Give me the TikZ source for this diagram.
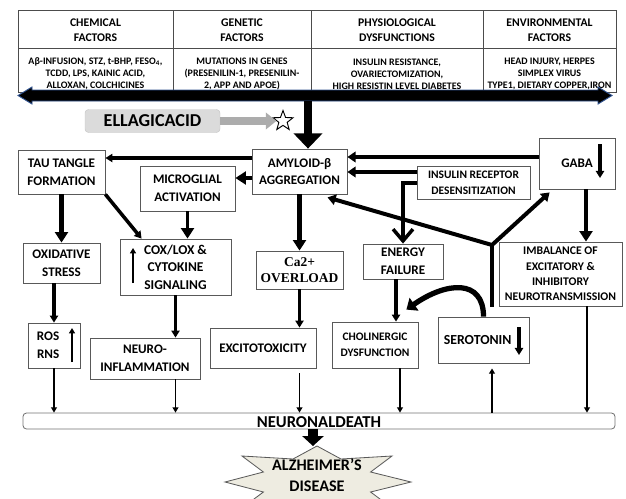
\documentclass[tikz,border=0pt]{standalone}
\usepackage{fontspec}
\setmainfont{Carlito}
\newfontfamily\serifbold{Liberation Serif}
\usetikzlibrary{arrows.meta,shapes.geometric,calc}
\definecolor{arrowblue}{RGB}{47,82,143}
\definecolor{starbeige}{RGB}{238,236,225}
\newlength\unitpx
\setlength\unitpx{0.03cm}
\tikzset{
	factorhead/.style={
		font=\fontsize{10}{12.8}\selectfont\bfseries,
		align=center
	},
	factortext/.style={
		font=\fontsize{8.5}{10.4}\selectfont\bfseries,
		align=center
	},
	box/.style={
		draw=black!65,
		fill=white,
		line width=0.7pt,
		align=center,
		inner sep=1pt,
		font=\fontsize{11.2}{15}\selectfont\bfseries
	},
	smallbox/.style={
		box,
		font=\fontsize{9.8}{13.4}\selectfont\bfseries
	},
	bigarrow/.style={line width=7.5pt, -{Triangle[length=13pt,width=24pt]}},
	thickarrow/.style={line width=4.2pt, -{Triangle[length=9pt,width=11pt]}},
	medarrow/.style={line width=2.6pt, -{Triangle[length=6pt,width=7pt]}},
	thinarrow/.style={line width=1.6pt, -{Triangle[length=4.5pt,width=5pt]}}
}

\begin{document}
\begin{tikzpicture}[x=\unitpx,y=-\unitpx]
	\useasboundingbox (0,0) rectangle (626,498);

	% factor table
	\draw[black!70, line width=0.8pt] (18,10) rectangle (616,92);
	\draw[black!70, line width=0.8pt] (18,48) -- (616,48)
		(173,10) -- (173,92) (311,10) -- (311,92) (483,10) -- (483,92);
	\node[factorhead] (chemhead) at (95.5,30) {CHEMICAL\\FACTORS};
	\node[factorhead] (genhead) at (242,30) {GENETIC\\FACTORS};
	\node[factorhead] (physhead) at (397,30) {PHYSIOLOGICAL\\DYSFUNCTIONS};
	\node[factorhead] (envhead) at (549.5,30) {ENVIRONMENTAL\\FACTORS};
	\node[factortext] (chem) at (95.5,74) {Aβ-INFUSION, STZ, t-BHP, FESO\textsubscript{4},\\TCDD, LPS, KAINIC ACID,\\ALLOXAN, COLCHICINES};
	\node[factortext] (gen) at (242,74) {MUTATIONS IN GENES\\(PRESENILIN-1,  PRESENILIN-\\2, APP AND APOE)};
	\node[factortext] (phys) at (397,74) {INSULIN RESISTANCE,\\OVARIECTOMIZATION,\\HIGH RESISTIN LEVEL DIABETES};
	\node[factortext] (env) at (549.5,74) {HEAD INJURY, HERPES\\SIMPLEX VIRUS\\TYPE1,  DIETARY COPPER,IRON};

	% double arrow under the table
	\filldraw[fill=black, draw=arrowblue, line width=0.8pt] (18,95.5) -- (32,87) -- (32,90)
		-- (598,90) -- (598,87) -- (612,95.5) -- (598,104) -- (598,101)
		-- (32,101) -- (32,104) -- cycle;
	\coordinate (factorbar) at (308,101);

	% ellagic acid
	\node[fill=gray!28, draw=gray!45, rounded corners=3pt, minimum width=135\unitpx,
		minimum height=23\unitpx, font=\fontsize{15.5}{18}\selectfont\bfseries] (ellagic) at (152.5,121) {ELLAGICACID};
	\node[star, star points=5, star point ratio=2.4, draw, line width=0.8pt,
		minimum size=21\unitpx, inner sep=0pt] (target) at (283,121) {};
	\draw[gray!65, line width=6pt, -{Triangle[length=9pt,width=14pt]}] (ellagic) -- (target);

	% boxes
	\node[box, minimum width=87\unitpx, minimum height=44\unitpx] (tau) at (61.5,172) {TAU TANGLE\\FORMATION};
	\node[box, minimum width=95\unitpx, minimum height=45\unitpx] (amyloid) at (299.5,171.5) {AMYLOID-β\\AGGREGATION};
	\node[box, minimum width=95\unitpx, minimum height=45\unitpx] (microglia) at (187.5,188.5) {MICROGLIAL\\ACTIVATION};
	\node[smallbox, minimum width=113\unitpx, minimum height=33\unitpx] (insulin) at (473.5,182.5) {INSULIN RECEPTOR\\DESENSITIZATION};
	\node[box, minimum width=76\unitpx, minimum height=51\unitpx] (gaba) at (577,163.5) {GABA};
	\node[box, minimum width=77\unitpx, minimum height=40\unitpx] (oxidative) at (61.5,263) {OXIDATIVE\\STRESS};
	\node[box, font=\fontsize{11.5}{15}\selectfont\bfseries, minimum width=111\unitpx, minimum height=56\unitpx] (cox) at (175.5,267) {COX/LOX \&\\CYTOKINE\\SIGNALING};
	\node[box, font=\fontsize{11.5}{14}\selectfont\serifbold\bfseries, minimum width=87\unitpx, minimum height=38\unitpx] (calcium) at (299.5,270) {Ca2+\\OVERLOAD};
	\node[box, minimum width=80\unitpx, minimum height=35\unitpx] (energy) at (403,261.5) {ENERGY\\FAILURE};
	\node[smallbox, font=\fontsize{10}{13}\selectfont\bfseries, minimum width=123\unitpx, minimum height=64\unitpx] (imbalance) at (560.5,274) {IMBALANCE OF\\EXCITATORY \&\\INHIBITORY\\NEUROTRANSMISSION};
	\node[box, minimum width=52\unitpx, minimum height=45\unitpx] (ros) at (54,345.5) {ROS\kern10pt\\RNS\kern10pt};
	\node[box, minimum width=110\unitpx, minimum height=41\unitpx] (inflammation) at (145,358.5) {NEURO-\\INFLAMMATION};
	\node[box, minimum width=106\unitpx, minimum height=40\unitpx] (excitotoxicity) at (263,348) {EXCITOTOXICITY};
	\node[smallbox, minimum width=86\unitpx, minimum height=46\unitpx] (cholinergic) at (375,345) {CHOLINERGIC\\DYSFUNCTION};
	\node[box, font=\fontsize{11.8}{15}\selectfont\bfseries, minimum width=91\unitpx, minimum height=46\unitpx] (serotonin) at (483.5,340) {SEROTONIN\kern10pt};
	\node[draw=black!55, fill=white, rounded corners=3pt, line width=0.7pt, minimum width=592\unitpx,
		minimum height=16\unitpx, inner sep=0pt,
		label={[font=\fontsize{14.2}{16}\selectfont\bfseries, yshift=-1pt]center:NEURONALDEATH}] (death) at (319,421) {};

	% alzheimer star
	\filldraw[fill=starbeige, draw=black!65, line width=0.7pt]
		(317,446) -- (341,459) -- (392,456) -- (370.6,472) -- (411,482)
		-- (370.6,492) -- (392,508) -- (341,505) -- (317,518)
		-- (293,505) -- (242,508) -- (263.4,492) -- (225,482)
		-- (263.4,472) -- (242,456) -- (293,459) -- cycle;
	\coordinate (startop) at (317,446);
	\node[font=\fontsize{13.8}{18}\selectfont\bfseries, align=center] (alzheimer) at (317,475) {ALZHEIMER’S\\DISEASE};

	% up and down marks inside boxes
	\draw[medarrow, line width=2.8pt] ($(gaba.center)+(23,-19.5)$) -- ($(gaba.center)+(23,14.5)$);
	\draw[medarrow, line width=2.8pt] ($(serotonin.center)+(35.5,-13)$) -- ($(serotonin.center)+(35.5,15)$);
	\draw[thinarrow, line width=2pt] ($(ros.center)+(18,16.5)$) -- ($(ros.center)+(18,-17.5)$);
	\draw[thinarrow, line width=2pt] ($(cox.center)+(-42.5,16)$) -- ($(cox.center)+(-42.5,-19)$);

	% connectors
	\draw[bigarrow] (factorbar) -- (factorbar |- amyloid.north);
	\draw[medarrow, line width=3pt] ([yshift=13.5\unitpx]amyloid.west) -- ([yshift=13.5\unitpx]amyloid.west -| tau.east);
	\draw[thickarrow] ([yshift=-6.5\unitpx]amyloid.west) -- ([yshift=-6.5\unitpx]amyloid.west -| microglia.east);
	\draw[medarrow, line width=3.4pt, -{Triangle[length=7pt,width=9pt]}] ([yshift=6.5\unitpx]gaba.west) -- ([yshift=6.5\unitpx]gaba.west -| amyloid.east);
	\draw[medarrow, line width=3.4pt, -{Triangle[length=7pt,width=9pt]}] ([yshift=10.5\unitpx]insulin.west) -- ([yshift=10.5\unitpx]insulin.west -| amyloid.east);
	\draw[line width=3pt, -{Straight Barb[length=10pt,width=17pt]}] ([yshift=-0.5\unitpx]insulin.west) -| (energy.north);
	\draw[thickarrow] (amyloid.south) -- (calcium.north);
	\draw[thickarrow] (tau.south) -- (oxidative.north);
	\draw[medarrow, line width=3pt] (tau.south east) -- ([xshift=22\unitpx]cox.north west);
	\draw[thickarrow, line width=3.4pt] (microglia.south) -- (microglia.south |- cox.north);
	\draw[medarrow] (cox.south) -- (cox.south |- inflammation.north);
	\draw[medarrow] (oxidative.south -| ros.north) -- (ros.north);
	\draw[medarrow] (calcium.south) -- (calcium.south |- excitotoxicity.north);
	\draw[medarrow] ([xshift=-7\unitpx]energy.south) -- ([xshift=-7\unitpx]energy.south |- cholinergic.north);
	\draw[thickarrow, line width=3.6pt] ([xshift=9\unitpx]gaba.south) -- ([xshift=9\unitpx]gaba.south |- imbalance.north);
	\draw[line width=4.5pt, -{Triangle[length=8pt,width=13pt]}] (serotonin.north) .. controls +(0,-38) and +(40,-28) .. ($(cholinergic.north east)+(-12,-12)$);

	% fork between serotonin, amyloid and gaba
	\coordinate (fork) at (492,245);
	\draw[line width=3.4pt] ([yshift=10\unitpx]serotonin.north -| fork) -- (fork);
	\draw[medarrow, line width=3.4pt, -{Triangle[length=7pt,width=9pt]}] (fork) -- ([xshift=28\unitpx,yshift=-3\unitpx]amyloid.south);
	\draw[medarrow, line width=3.4pt, -{Triangle[length=7pt,width=9pt]}] (fork) -- ([xshift=11\unitpx,yshift=-3\unitpx]gaba.south west);

	% into neuronal death
	\draw[thinarrow] (ros.south) -- (ros.south |- death.north);
	\draw[thinarrow] (inflammation.south -| cox.south) -- (cox.south |- death.north);
	\draw[thinarrow] ([yshift=-5\unitpx]excitotoxicity.south -| calcium.south) -- (calcium.south |- death.north);
	\draw[thinarrow] ([xshift=25\unitpx]cholinergic.south) -- ([xshift=25\unitpx]cholinergic.south |- death.north);
	\draw[thinarrow] (death.north -| fork) -- ([yshift=-5\unitpx]serotonin.south -| fork);
	\draw[thinarrow] ([xshift=26.5\unitpx]imbalance.south) -- ([xshift=26.5\unitpx]imbalance.south |- death.north);
	\draw[bigarrow, line width=8pt, -{Triangle[length=8.5pt,width=18pt]}] ([xshift=-6\unitpx]death.south) -- ([xshift=-4\unitpx]startop);
\end{tikzpicture}
\end{document}
